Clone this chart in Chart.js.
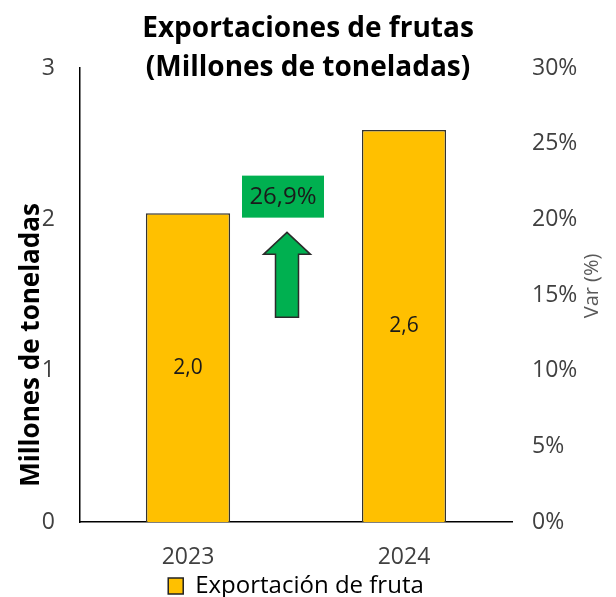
<!DOCTYPE html>
<html>
<head>
<meta charset="utf-8">
<script src="https://cdn.jsdelivr.net/npm/chart.js@4/dist/chart.umd.min.js"></script>
<style>
html,body{margin:0;padding:0;background:#fff;}
#wrap{width:616px;height:597px;}
</style>
</head>
<body>
<div id="wrap"><canvas id="c" width="616" height="597"></canvas></div>
<script>
const categories = ["2023", "2024"];
const exportValues = [2.04, 2.59];
const valueLabels = ["2,0", "2,6"];
const variationLabel = "26,9%";
const leftTicks = [0, 1, 2, 3];
const rightTicks = [0, 0.05, 0.10, 0.15, 0.20, 0.25, 0.30];
const titleLines = ["Exportaciones de frutas", "(Millones de toneladas)"];
const leftAxisTitle = "Millones de toneladas";
const rightAxisTitle = "Var (%)";
const seriesName = "Exportación de fruta";

const FONT = "'Open Sans', 'Noto Sans', sans-serif";

const overlay = {
  id: 'overlay',
  afterDatasetsDraw(chart) {
    const ctx = chart.ctx;
    const x = chart.scales.x, y = chart.scales.y, y2 = chart.scales.y2;
    ctx.save();
    // bar labels
    ctx.font = "21px " + FONT;
    ctx.fillStyle = "#1a1a1a";
    ctx.textAlign = "center";
    ctx.textBaseline = "middle";
    exportValues.forEach((v, i) => {
      ctx.fillText(valueLabels[i], x.getPixelForValue(i), y.getPixelForValue(v / 2));
    });
    // variation box
    const cx = x.getPixelForValue(0.5) - 13;
    const by = y.getPixelForValue(2.15);
    ctx.fillStyle = "#00b050";
    ctx.fillRect(cx - 41, by - 21, 82, 42);
    ctx.fillStyle = "#1a1a1a";
    ctx.font = "24px " + FONT;
    ctx.fillText(variationLabel, cx, by + 1);
    // arrow
    const ax = cx + 4;
    const tip = y.getPixelForValue(1.914);
    const bot = y.getPixelForValue(1.353);
    const headBase = tip + 22;
    ctx.beginPath();
    ctx.moveTo(ax, tip);
    ctx.lineTo(ax + 23.5, headBase);
    ctx.lineTo(ax + 11.5, headBase);
    ctx.lineTo(ax + 11.5, bot);
    ctx.lineTo(ax - 11.5, bot);
    ctx.lineTo(ax - 11.5, headBase);
    ctx.lineTo(ax - 23.5, headBase);
    ctx.closePath();
    ctx.fillStyle = "#00b050";
    ctx.fill();
    ctx.strokeStyle = "#2b2b2b";
    ctx.lineWidth = 1.5;
    ctx.stroke();
    // title
    ctx.fillStyle = "#000";
    ctx.font = "bold 28px " + FONT;
    ctx.fillText(titleLines[0], 308, 29);
    ctx.fillText(titleLines[1], 308, 68);
    // left axis title
    ctx.save();
    ctx.translate(32, y.getPixelForValue(1.17));
    ctx.rotate(-Math.PI / 2);
    ctx.font = "bold 26px " + FONT;
    ctx.fillText(leftAxisTitle, 0, 0);
    ctx.restore();
    // right axis title
    ctx.save();
    ctx.translate(592, y2.getPixelForValue(0.156));
    ctx.rotate(-Math.PI / 2);
    ctx.fillStyle = "#595959";
    ctx.font = "20px " + FONT;
    ctx.fillText(rightAxisTitle, 0, 0);
    ctx.restore();
    ctx.restore();
  }
};

new Chart(document.getElementById('c'), {
  type: 'bar',
  data: {
    labels: categories,
    datasets: [{
      label: seriesName,
      data: exportValues,
      backgroundColor: '#ffc000',
      borderColor: '#333333',
      borderWidth: 1.5,
      barPercentage: 0.39,
      categoryPercentage: 1,
      yAxisID: 'y'
    }]
  },
  options: {
    responsive: false,
    animation: false,
    layout: { padding: { top: 68, left: 0, right: 0, bottom: -11 } },
    plugins: {
      tooltip: { enabled: false },
      title: { display: false },
      legend: {
        display: true,
        position: 'bottom',
        fullSize: false,
        labels: {
          boxWidth: 15, boxHeight: 16, padding: 1,
          color: '#262626',
          font: { family: FONT, size: 24 },
          generateLabels(chart) {
            return [{ text: seriesName, fillStyle: '#ffc000', strokeStyle: '#222', lineWidth: 1.5, datasetIndex: 0 }];
          }
        }
      }
    },
    scales: {
      x: {
        grid: { display: false, drawTicks: false },
        border: { display: true, color: '#000', width: 1.5 },
        ticks: { color: '#404040', font: { family: FONT, size: 23 }, padding: 22 },
        afterFit(s) { s.height = 51; }
      },
      y: {
        position: 'left',
        min: 0, max: 3,
        afterBuildTicks(s) { s.ticks = leftTicks.map(v => ({ value: v })); },
        grid: { display: false, drawTicks: false },
        border: { display: true, color: '#000', width: 1.5 },
        ticks: { color: '#404040', font: { family: FONT, size: 23 }, padding: 25 },
        afterFit(s) { s.width = 80; }
      },
      y2: {
        position: 'right',
        display: true,
        min: 0, max: 0.3,
        afterBuildTicks(s) { s.ticks = rightTicks.map(v => ({ value: v })); },
        grid: { display: false, drawTicks: false },
        border: { display: false },
        ticks: {
          color: '#404040', font: { family: FONT, size: 23 }, padding: 20,
          callback: v => Math.round(v * 100) + '%'
        },
        afterFit(s) { s.width = 104; }
      }
    }
  },
  plugins: [overlay]
});
</script>
</body>
</html>
